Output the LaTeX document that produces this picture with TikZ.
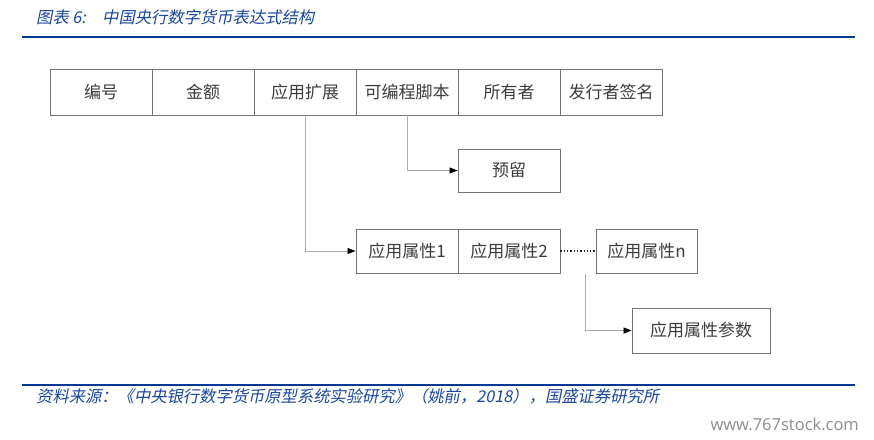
\documentclass[tikz,border=0pt]{standalone}
\usepackage{fontspec}
\usetikzlibrary{arrows.meta}
\newfontfamily\cjk{Noto Sans CJK SC}
\newfontfamily\cjkit[FakeSlant=0.2]{Noto Sans CJK SC}
\newfontfamily\wmfont{Open Sans}
\definecolor{hdrblue}{RGB}{0,56,147}
\definecolor{txtblue}{RGB}{25,70,160}
\definecolor{boxtext}{RGB}{60,60,60}
\definecolor{boxline}{RGB}{115,115,115}
\definecolor{connline}{RGB}{170,170,170}
\tikzset{
  cell/.style={draw=boxline, line width=0.9pt, minimum width=102pt, minimum height=46pt, inner sep=0pt,
    text=boxtext, font=\cjk\fontsize{17}{17}\selectfont},
  conn/.style={draw=connline, line width=0.8pt, -{Triangle[length=8pt,width=6pt,color=black]}},
  dotline/.style={draw=black!85, line width=1.3pt, dotted},
  rule/.style={draw=hdrblue, line width=2pt},
  caption/.style={anchor=west, inner sep=0pt, text=txtblue, font=\cjkit\fontsize{16.3}{16.3}\selectfont},
}
\begin{document}
\begin{tikzpicture}[x=1pt,y=-1pt]
\useasboundingbox (0,0) rectangle (874,439);
% header / footer
\node[caption] (titlelead) at (36,17) {图表 6:};
\node[caption] (title) at (102,17) {中国央行数字货币表达式结构};
\coordinate (tl) at (22,37);
\coordinate (tr) at (855,37);
\draw[rule] (tl) -- (tr);
\coordinate (bl) at (22,385);
\coordinate (br) at (855,385);
\draw[rule] (bl) -- (br);
\node[caption] (src) at (36,396) {资料来源：《中央银行数字货币原型系统实验研究》（姚前，2018），国盛证券研究所};
\node[anchor=east, inner sep=0pt, text=black!45, font=\wmfont\fontsize{16.5}{16.5}\selectfont] (wm) at (859,424) {www.767stock.com};
% top row
\node[cell] (f1) at (101,92) {编号};
\node[cell] (f2) at (203,92) {金额};
\node[cell] (f3) at (305,92) {应用扩展};
\node[cell] (f4) at (407,92) {可编程脚本};
\node[cell] (f5) at (509,92) {所有者};
\node[cell] (f6) at (611,92) {发行者签名};
% reserved
\node[cell, minimum height=43pt] (res) at (509,170.5) {预留};
% attributes row
\node[cell, minimum height=44pt] (a1) at (407,251) {应用属性1};
\node[cell, minimum height=44pt] (a2) at (509,251) {应用属性2};
\node[cell, minimum height=44pt, minimum width=101pt] (an) at (646.5,251) {应用属性n};
\node[cell, minimum height=45pt, minimum width=138pt] (ap) at (701,330.5) {应用属性参数};
% connectors
\draw[conn] (f4.south) |- (res.west);
\draw[conn] (f3.south) |- (a1.west);
\draw[dotline] (a2.east) -- (an.west);
\coordinate (pstart) at (585,274);
\draw[conn] (pstart) |- (ap.west);
\end{tikzpicture}
\end{document}
